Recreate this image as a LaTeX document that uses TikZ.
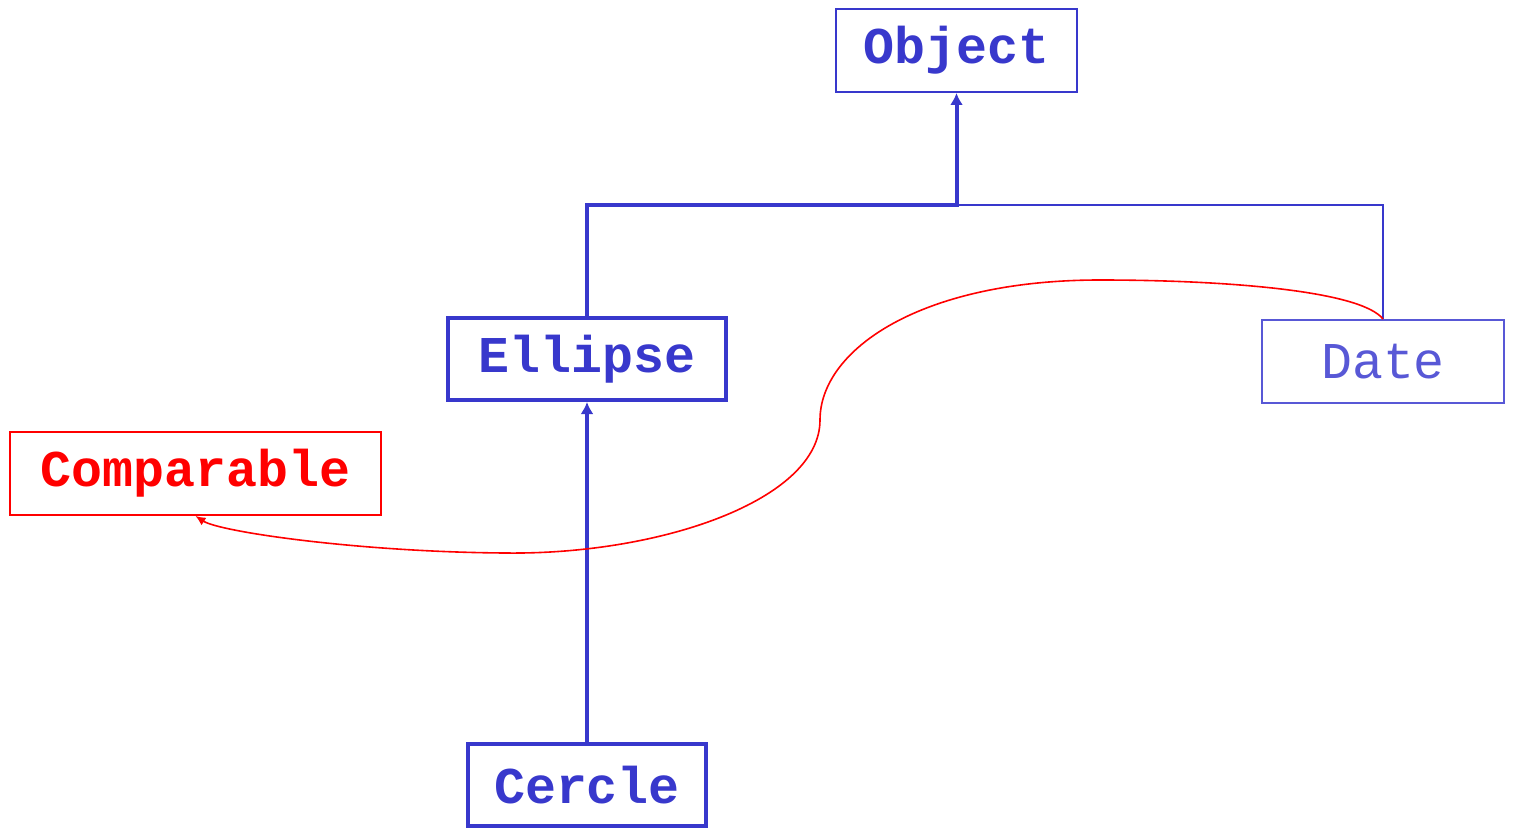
\documentclass[tikz,border=0pt]{standalone}
\usepackage{fontspec}
\setmonofont{Liberation Mono}
\usetikzlibrary{arrows.meta}
\definecolor{umlblue}{RGB}{56,56,204}
\definecolor{umllight}{RGB}{88,88,214}
\definecolor{umlred}{RGB}{255,0,0}
\tikzset{
  cls/.style={draw=umlblue,text=umlblue,line width=1pt,inner sep=0pt,
    font=\ttfamily\bfseries\fontsize{25.8}{30}\selectfont},
  bigcls/.style={cls,line width=2pt},
  iface/.style={cls,draw=umlred,text=umlred},
  ext/.style={draw=umlblue,line width=2pt,-{Latex[length=6pt,width=6.5pt]}},
  impl/.style={draw=umlred,line width=0.8pt,-{Latex[length=5pt,width=4.5pt]}}
}
\begin{document}
\begin{tikzpicture}[x=0.5pt,y=-0.5pt]
\useasboundingbox (0,0) rectangle (1531,829);
\node[cls,minimum width=120.5pt,minimum height=41.5pt] (object) at (956.5,50.5) {Object};
\node[bigcls,minimum width=139pt,minimum height=41pt] (ellipse) at (587,359) {Ellipse};
\node[cls,draw=umllight,text=umllight,font=\ttfamily\fontsize{25.8}{30}\selectfont,
  minimum width=121pt,minimum height=41.5pt] (date) at (1383,361.5) {Date};
\node[iface,minimum width=185.5pt,minimum height=41.5pt] (comparable) at (195.5,473.5) {Comparable};
\node[bigcls,minimum width=119pt,minimum height=41pt] (cercle) at (587,785) {Cercle};
\coordinate (join) at (956.5,205);
\draw[ext] (ellipse.north) |- (join) -- (object.south);
\draw[umlblue,line width=1pt] (date.north) |- (join);
\draw[ext] (cercle.north) -- (ellipse.south);
\draw[impl] (date.north) .. controls (1360,290) and (1220,280) .. (1100,280)
  .. controls (920,280) and (820,350) .. (820,420)
  .. controls (820,500) and (660,555) .. (505,553)
  .. controls (360,552) and (220,532) .. (comparable.south);
\end{tikzpicture}
\end{document}
